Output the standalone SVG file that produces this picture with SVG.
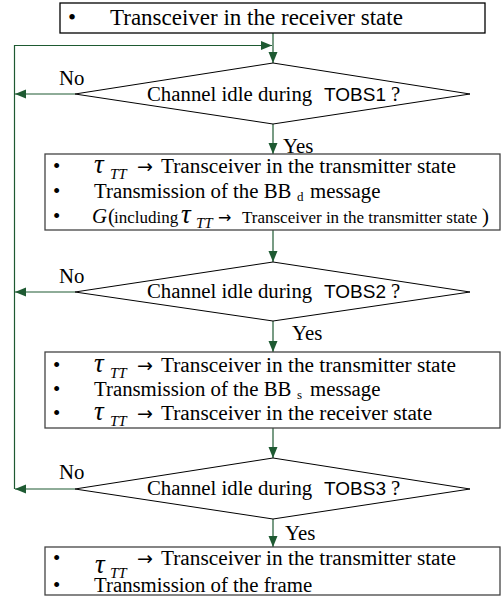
<svg xmlns="http://www.w3.org/2000/svg" width="502" height="596" viewBox="0 0 502 596">
<style>
text{font-family:"Liberation Serif","Times New Roman",serif;font-size:20.8px;fill:#000}
.big{font-size:23px}
.sans{font-family:"Liberation Sans",Arial,sans-serif;font-size:19px}
.it{font-style:italic}
.tau{font-style:italic;font-size:27px}
.sub{font-style:italic;font-size:15px}
.arr{font-family:"DejaVu Sans",sans-serif;font-size:19px}
.arrs{font-family:"DejaVu Sans",sans-serif;font-size:16px}
.sm{font-size:17px}
.tiny{font-size:13px}
.box{fill:#fff;stroke:#444;stroke-width:1.3}
.dia{fill:#fff;stroke:#000;stroke-width:1}
.con{fill:none;stroke:#1e5a32;stroke-width:1.2}
</style>
<defs>
<marker id="ah" markerUnits="userSpaceOnUse" markerWidth="12" markerHeight="10" refX="11" refY="4.5" orient="auto">
<path d="M0,0 L11,4.5 L0,9 Z" fill="#1e5a32"/>
</marker>
</defs>

<g id="connectors">
<line class="con" x1="273" y1="33" x2="273" y2="63" marker-end="url(#ah)"/>
<polyline class="con" points="14.5,489 14.5,45.5 272,45.5" marker-end="url(#ah)"/>
<line class="con" x1="75" y1="94" x2="15" y2="94" marker-end="url(#ah)"/>
<line class="con" x1="273" y1="124" x2="273" y2="154" marker-end="url(#ah)"/>
<line class="con" x1="273" y1="230" x2="273" y2="262" marker-end="url(#ah)"/>
<line class="con" x1="75" y1="292" x2="15" y2="292" marker-end="url(#ah)"/>
<line class="con" x1="273" y1="321" x2="273" y2="352" marker-end="url(#ah)"/>
<line class="con" x1="273" y1="428" x2="273" y2="458" marker-end="url(#ah)"/>
<line class="con" x1="75" y1="489" x2="15" y2="489" marker-end="url(#ah)"/>
<line class="con" x1="273" y1="519" x2="273" y2="547" marker-end="url(#ah)"/>
<text x="59" y="85">No</text>
<text x="59" y="283">No</text>
<text x="59" y="479">No</text>
<text x="283" y="153">Yes</text>
<text x="292" y="340">Yes</text>
<text x="285" y="540">Yes</text>
</g>

<g id="start">
<rect x="60" y="3" width="425" height="30" fill="#fff" stroke="#000" stroke-width="1.3"/>
<text class="big" x="68" y="25">•<tspan x="110">Transceiver in the receiver state</tspan></text>
</g>

<g id="decision1">
<polygon class="dia" points="273,63 470,94 273,124 75,94"/>
<text x="147" y="101">Channel idle during<tspan class="sans" x="324">TOBS1</tspan><tspan x="391">?</tspan></text>
</g>

<g id="step1">
<rect class="box" x="45" y="154" width="455" height="76"/>
<text x="53" y="173">•<tspan class="tau" x="94">τ</tspan><tspan class="sub" x="110" dy="6">TT</tspan><tspan class="arr" x="137" dy="-6">→</tspan><tspan x="161" style="font-size:21.3px">Transceiver in the transmitter state</tspan></text>
<text x="53" y="198">•<tspan x="94">Transmission of the BB</tspan><tspan class="tiny" x="297" dy="3">d</tspan><tspan x="310" dy="-3">message</tspan></text>
<text x="53" y="223">•<tspan class="it" x="92">G</tspan><tspan x="108">(</tspan><tspan class="sm" x="114">including</tspan><tspan class="tau" x="181">τ</tspan><tspan class="sub" x="196" dy="5">TT</tspan><tspan class="arrs" x="218" dy="-5">→</tspan><tspan class="sm" x="242">Transceiver in the transmitter state</tspan><tspan x="482">)</tspan></text>
</g>

<g id="decision2">
<polygon class="dia" points="273,262 470,292 273,321 75,292"/>
<text x="147" y="298">Channel idle during<tspan class="sans" x="324">TOBS2</tspan><tspan x="391">?</tspan></text>
</g>

<g id="step2">
<rect class="box" x="45" y="352" width="455" height="76"/>
<text x="53" y="372">•<tspan class="tau" x="94">τ</tspan><tspan class="sub" x="110" dy="6">TT</tspan><tspan class="arr" x="137" dy="-6">→</tspan><tspan x="161" style="font-size:21.3px">Transceiver in the transmitter state</tspan></text>
<text x="53" y="396">•<tspan x="94">Transmission of the BB</tspan><tspan class="tiny" x="297" dy="3">s</tspan><tspan x="310" dy="-3">message</tspan></text>
<text x="53" y="420">•<tspan class="tau" x="94">τ</tspan><tspan class="sub" x="110" dy="6">TT</tspan><tspan class="arr" x="137" dy="-6">→</tspan><tspan x="161" style="font-size:21.3px">Transceiver in the receiver state</tspan></text>
</g>

<g id="decision3">
<polygon class="dia" points="273,458 470,489 273,519 75,489"/>
<text x="147" y="495">Channel idle during<tspan class="sans" x="324">TOBS3</tspan><tspan x="391">?</tspan></text>
</g>

<g id="step3">
<rect class="box" x="45" y="547" width="455" height="48"/>
<text x="53" y="565">•<tspan class="tau" x="95" dy="8">τ</tspan><tspan class="sub" x="110" dy="5">TT</tspan><tspan class="arr" x="137" dy="-13">→</tspan><tspan x="161" style="font-size:21.3px">Transceiver in the transmitter state</tspan></text>
<text x="53" y="592">•<tspan x="94">Transmission of the frame</tspan></text>
</g>
</svg>
